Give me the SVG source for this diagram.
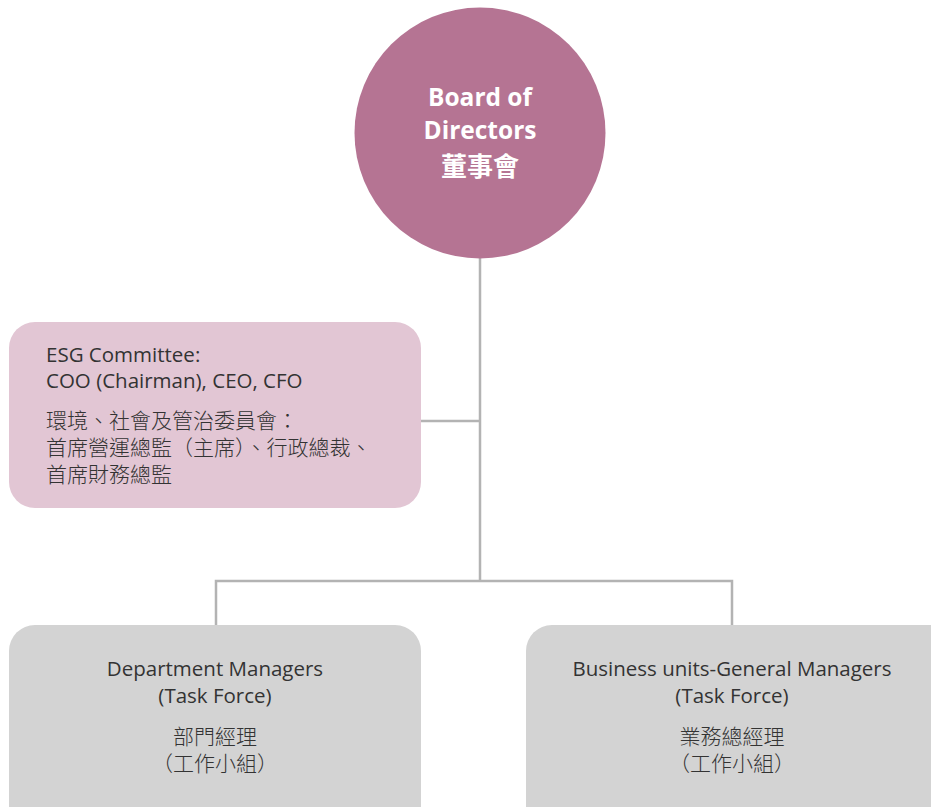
<svg xmlns="http://www.w3.org/2000/svg" width="931" height="807" viewBox="0 0 931 807">
<style>
.t{font-family:"Open Sans","Noto Sans CJK TC",sans-serif;font-size:20.5px;font-weight:400;fill:#333333}
.k{font-family:"Noto Sans CJK TC",sans-serif;font-size:21px;font-weight:300;fill:#333333}
.c{text-anchor:middle}
.w{font-family:"Open Sans","Noto Sans CJK TC",sans-serif;font-size:24.5px;font-weight:bold;fill:#ffffff;text-anchor:middle}
.wk{font-family:"Noto Sans CJK TC",sans-serif;font-size:26px;font-weight:bold;fill:#ffffff;text-anchor:middle}
.ln{stroke:#b3b3b3;stroke-width:2.5;fill:none}
</style>
<rect width="931" height="807" fill="#ffffff"/>
<g id="connectors">
<line class="ln" x1="480" y1="250" x2="480" y2="581"/>
<line class="ln" x1="415" y1="421" x2="480" y2="421"/>
<polyline class="ln" points="216,628 216,581 732,581 732,628"/>
</g>
<g id="board">
<circle cx="480" cy="133" r="125.5" fill="#b57493"/>
<text class="w" x="480" y="106">Board of</text>
<text class="w" x="480" y="139">Directors</text>
<text class="wk" x="480" y="176">董事會</text>
</g>
<g id="esg">
<rect x="9" y="322" width="412" height="186" rx="26" fill="#e2c6d4"/>
<text class="t" x="46" y="362">ESG Committee:</text>
<text class="t" x="46" y="388">COO (Chairman), CEO, CFO</text>
<text class="k" x="46" y="428">環境、社會及管治委員會：</text>
<text class="k" x="46" y="455">首席營運總監（主席）、行政總裁、</text>
<text class="k" x="46" y="482">首席財務總監</text>
</g>
<g id="dept">
<rect x="9" y="625" width="412" height="210" rx="26" fill="#d3d3d3"/>
<text class="t c" x="215" y="676">Department Managers</text>
<text class="t c" x="215" y="703">(Task Force)</text>
<text class="k c" x="215" y="744">部門經理</text>
<text class="k c" x="215" y="771">（工作小組）</text>
</g>
<g id="bu">
<rect x="526" y="625" width="430" height="210" rx="26" fill="#d3d3d3"/>
<text class="t c" x="732" y="676">Business units-General Managers</text>
<text class="t c" x="732" y="703">(Task Force)</text>
<text class="k c" x="732" y="744">業務總經理</text>
<text class="k c" x="732" y="771">（工作小組）</text>
</g>
</svg>
